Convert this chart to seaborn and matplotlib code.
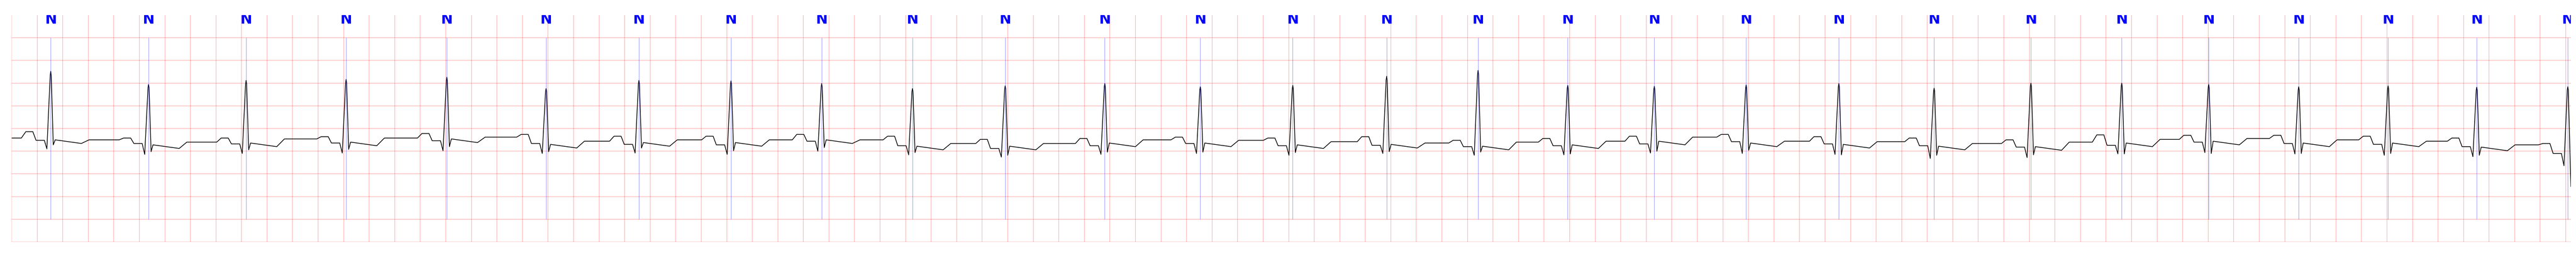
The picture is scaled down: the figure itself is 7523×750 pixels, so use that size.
import matplotlib.pyplot as plt
import numpy as np
import pandas as pd
import seaborn as sns

sns.set_theme(style="white")

# R-peak times (s) of the annotated beats
beat_times = [0.306, 1.072, 1.836, 2.619, 3.408, 4.185, 4.912, 5.633, 6.343, 7.054,
              7.780, 8.560, 9.308, 10.032, 10.767, 11.483, 12.185, 12.863, 13.582, 14.308,
              15.054, 15.812, 16.523, 17.204, 17.909, 18.609, 19.303, 20.016]
beat_labels = ["N"] * len(beat_times)

# QRS levels (mV) per beat
r_amp = [1.26, 0.97, 1.06, 1.08, 1.13, 0.88, 1.06, 1.05, 0.99, 0.88,
         0.94, 0.99, 0.92, 0.95, 1.15, 1.28, 0.95, 0.93, 0.96, 0.99,
         0.89, 1.00, 1.00, 0.97, 0.92, 0.94, 0.91, 0.92]
q_amp = [-0.45, -0.57, -0.55, -0.54, -0.49, -0.55, -0.54, -0.57, -0.50, -0.58,
         -0.63, -0.57, -0.55, -0.59, -0.55, -0.59, -0.58, -0.54, -0.55, -0.57,
         -0.66, -0.64, -0.56, -0.53, -0.56, -0.59, -0.62, -0.82]
s_amp = [-0.36, -0.51, -0.47, -0.46, -0.40, -0.51, -0.43, -0.49, -0.42, -0.53,
         -0.59, -0.52, -0.52, -0.53, -0.51, -0.52, -0.56, -0.50, -0.48, -0.58,
         -0.59, -0.58, -0.56, -0.55, -0.55, -0.55, -0.59]

# P wave peak and PR segment level before each beat
p_amp = [-0.07, -0.21, -0.21, -0.18, -0.11, -0.13, -0.17, -0.17, -0.13, -0.17,
         -0.24, -0.22, -0.19, -0.21, -0.18, -0.26, -0.22, -0.17, -0.13, -0.18,
         -0.21, -0.25, -0.14, -0.15, -0.15, -0.17, -0.21, -0.33]
pr_lvl = [-0.26, -0.33, -0.34, -0.32, -0.27, -0.33, -0.35, -0.36, -0.28, -0.38,
          -0.44, -0.38, -0.33, -0.38, -0.37, -0.40, -0.38, -0.34, -0.29, -0.34,
          -0.38, -0.41, -0.37, -0.30, -0.33, -0.35, -0.40, -0.55]

# ST level and T wave level after each beat (the last beat is cut off)
st_lvl = [-0.30, -0.41, -0.37, -0.35, -0.28, -0.40, -0.36, -0.36, -0.30, -0.44,
          -0.44, -0.37, -0.37, -0.41, -0.40, -0.44, -0.41, -0.33, -0.37, -0.40,
          -0.44, -0.45, -0.37, -0.33, -0.37, -0.37, -0.46]
t_lvl = [-0.25, -0.30, -0.23, -0.21, -0.19, -0.28, -0.25, -0.25, -0.25, -0.33,
         -0.33, -0.25, -0.26, -0.29, -0.32, -0.30, -0.28, -0.19, -0.28, -0.29,
         -0.33, -0.30, -0.24, -0.22, -0.25, -0.28, -0.36]

start_lvl = -0.21
end_time = 20.04
end_lvl = -1.28


def build_trace():
    pts = [(0.0, start_lvl)]
    level = start_lvl
    for i, r in enumerate(beat_times):
        pts += [(r - 0.23, level), (r - 0.195, p_amp[i]), (r - 0.14, p_amp[i]),
                (r - 0.115, pr_lvl[i]), (r - 0.05, pr_lvl[i]), (r - 0.03, q_amp[i]),
                (r - 0.004, r_amp[i] * 0.93), (r, r_amp[i]), (r + 0.004, r_amp[i] * 0.93)]
        if i < len(st_lvl):
            pts += [(r + 0.02, s_amp[i]), (r + 0.035, st_lvl[i] + 0.05),
                    (r + 0.24, st_lvl[i] - 0.03), (r + 0.30, t_lvl[i])]
            level = t_lvl[i]
    pts.append((end_time, end_lvl))
    return pd.DataFrame(pts, columns=["time", "mv"])


def main():
    df = build_trace()

    fig = plt.figure(figsize=(75.23, 7.5), dpi=100)
    ax = fig.add_axes([34 / 7523, 44 / 750, 7474 / 7523, 662 / 750])

    sns.lineplot(data=df, x="time", y="mv", color="black", linewidth=1.5,
                 estimator=None, sort=False, ax=ax)

    # annotation markers
    ax.vlines(beat_times, -2.0, 2.0, color="blue", alpha=0.5, linewidth=0.8)
    for bt, lab in zip(beat_times, beat_labels):
        ax.text(bt, 2.40, lab, color="blue", fontsize=30, fontweight="bold",
                ha="center", va="center", clip_on=True,
                family=["Liberation Sans Narrow", "DejaVu Sans"])

    ax.set_xlim(0, end_time)
    ax.set_ylim(-2.5, 2.5)
    ax.set_xticks(np.arange(0, 20.01, 0.2))
    ax.set_yticks(np.arange(-2.5, 2.01, 0.5))
    ax.grid(True, color="red", alpha=0.28, linewidth=1.3)
    ax.tick_params(length=0, labelbottom=False, labelleft=False)
    ax.set_xlabel("")
    ax.set_ylabel("")
    for sp in ax.spines.values():
        sp.set_visible(False)

    fig.savefig("out.png", dpi=100)


if __name__ == "__main__":
    main()
